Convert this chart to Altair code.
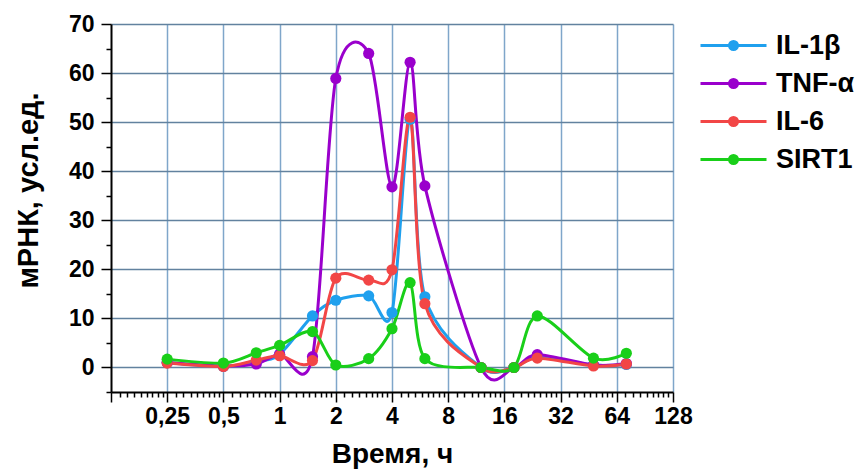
import altair as alt
import pandas as pd

hours = [0.25, 0.5, 0.75, 1, 1.5, 2, 3, 4, 5, 6, 12, 18, 24, 48, 72]
il1b = [1.0, 0.2, 1.2, 2.7, 10.5, 13.7, 14.6, 11.2, 50.6, 14.4, 0.0, 0.0, 2.1, 0.5, 0.6]
tnfa = [1.0, 0.3, 0.7, 2.7, 2.2, 58.9, 64.0, 36.8, 62.2, 37.0, 0.0, 0.0, 2.6, 0.5, 0.8]
il6 = [0.9, 0.2, 1.5, 2.4, 1.4, 18.2, 17.8, 19.9, 51.0, 13.0, 0.0, 0.0, 1.9, 0.3, 0.7]
sirt1 = [1.7, 0.9, 3.0, 4.5, 7.3, 0.5, 1.8, 7.9, 17.3, 1.8, 0.0, 0.0, 10.5, 1.9, 2.9]

series_names = ["IL-1β", "TNF-α", "IL-6", "SIRT1"]
series_colors = ["#1FA0EE", "#9A00CC", "#F24646", "#19CF19"]

x_major = [0.125, 0.25, 0.5, 1, 2, 4, 8, 16, 32, 64, 128]
x_minor_fracs = [1 + i / 9 for i in range(1, 9)]
x_minor = [m * f for m in x_major[:-1] for f in x_minor_fracs]
y_ticks = list(range(-5, 75, 5))

rows = []
for name, vals in zip(series_names, [il1b, tnfa, il6, sirt1]):
    for h, v in zip(hours, vals):
        rows.append({"t": h, "v": v, "s": name})
df = pd.DataFrame(rows)

major_test = "abs(log(datum.value)/LN2 - round(log(datum.value)/LN2)) < 0.001"

r = 3.3
def circ(rad):
    return f"M{rad},0A{rad},{rad} 0 1,1 {-rad},0A{rad},{rad} 0 1,1 {rad},0"
sym_path = f"M{-r},0H{r}" + circ(0.4) + circ(0.2) + circ(0.05)

font = "Liberation Sans"

chart = alt.Chart(df).mark_line(
    interpolate="cardinal",
    tension=0.1,
    strokeWidth=3,
    point=alt.OverlayMarkDef(filled=True, size=125, opacity=1),
).encode(
    x=alt.X(
        "t:Q",
        scale=alt.Scale(type="log", base=2, domain=[0.125, 128], nice=False),
        axis=alt.Axis(
            title="Время, ч",
            values=x_major + x_minor,
            labelExpr=f"({major_test}) && datum.value > 0.2 ? replace(format(datum.value, '~g'), '.', ',') : ''",
            labelOverlap=False,
            labelFlush=False,
            tickSize={"condition": {"test": major_test, "value": 10}, "value": 5},
            gridOpacity={"condition": {"test": f"({major_test}) && datum.value > 0.2", "value": 1}, "value": 0},
            gridColor="#7FA6CA",
            gridWidth=1.5,
            labelPadding=3,
            titleY=70,
            titleBaseline="alphabetic",
        ),
    ),
    y=alt.Y(
        "v:Q",
        scale=alt.Scale(domain=[-5, 70], nice=False, zero=False),
        axis=alt.Axis(
            title="мРНК, усл.ед.",
            values=y_ticks,
            labelExpr="datum.value % 10 == 0 && datum.value >= 0 ? datum.label : ''",
            labelOverlap=False,
            labelFlush=False,
            tickSize={"condition": {"test": "datum.value % 10 == 0", "value": 10}, "value": 5},
            gridOpacity={"condition": {"test": "datum.value % 10 == 0 && datum.value >= 0", "value": 1}, "value": 0},
            gridColor="#62829F",
            gridWidth=1.5,
            labelPadding=7,
            titleX=-83,
            titleY=166,
            titleAngle=-90,
            titleAlign="center",
            titleBaseline="middle",
            titleFontSize=29,
        ),
    ),
    color=alt.Color(
        "s:N",
        sort=series_names,
        scale=alt.Scale(domain=series_names, range=series_colors),
        legend=alt.Legend(
            title=None,
            orient="none",
            legendX=609,
            legendY=8,
            padding=0,
            symbolType=sym_path,
            symbolSize=400,
            symbolStrokeWidth=3,
            symbolOpacity=1,
            labelOffset=29,
            labelFontSize=27,
            labelFont=font,
            labelFontWeight="bold",
            labelColor="black",
            rowPadding=10,
        ),
    ),
    order=alt.Order("t:Q"),
).properties(
    width=562,
    height=368,
    background="white",
    autosize=alt.AutoSizeParams(type="none"),
    padding={"left": 111, "top": 24, "right": 185, "bottom": 78},
).configure_view(
    stroke=None,
).configure_axis(
    domainColor="black",
    domainWidth=2,
    tickColor="black",
    tickWidth=1.5,
    labelFont=font,
    labelFontSize=23,
    labelFontWeight="bold",
    labelColor="black",
    titleFont=font,
    titleFontSize=28,
    titleFontWeight="bold",
    titleColor="black",
)

chart.save("out.html", embed_options={"renderer": "svg", "actions": False})
